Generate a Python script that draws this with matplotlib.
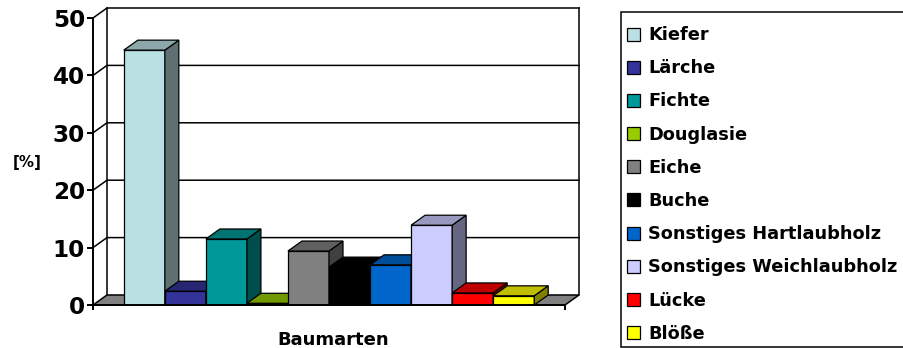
import matplotlib
matplotlib.use("Agg")
import matplotlib.pyplot as plt
from matplotlib.colors import to_rgb
from matplotlib.patches import Polygon, Rectangle

# Anteile der Baumarten in %
arten = ['Kiefer', 'Lärche', 'Fichte', 'Douglasie', 'Eiche', 'Buche',
         'Sonstiges Hartlaubholz', 'Sonstiges Weichlaubholz', 'Lücke', 'Blöße']
anteile = [44.4, 2.4, 11.5, 0.3, 9.4, 6.6, 7.0, 13.9, 2.1, 1.6]
farben = ['#BBE0E3', '#333399', '#009999', '#99CC00', '#808080', '#000000',
          '#0066CC', '#CCCCFF', '#FF0000', '#FFFF00']
y_ticks = [0, 10, 20, 30, 40, 50]

W, H = 904, 348
fig = plt.figure(figsize=(W / 100, H / 100), dpi=100)
plt.rcParams['font.family'] = 'DejaVu Sans'
plt.rcParams['font.weight'] = 'bold'


def shade(c, f):
    r, g, b = to_rgb(c)
    return (r * f, g * f, b * f)


# Diagrammfläche (Vorderkante)
ax = fig.add_axes([93 / W, 43 / H, 472 / W, 287 / H])
gap = 0.75
n = len(anteile)
x_max = n + 2 * gap
ax.set_xlim(0, x_max)
ax.set_ylim(0, 50)
ax.patch.set_visible(False)

# Tiefe der 3D-Darstellung in Dateneinheiten
dx = 14 / 472 * x_max
dy = 10 / 287 * 50

# Rückwand mit Gitternetzlinien
lw = 1.1
for v in y_ticks[1:]:
    ax.plot([0, dx, x_max + dx], [v, v + dy, v + dy], color='black',
            lw=lw, clip_on=False, zorder=1)
ax.plot([dx, dx], [dy, 50 + dy], color='black', lw=lw, clip_on=False, zorder=1)
ax.plot([x_max + dx, x_max + dx], [dy, 50 + dy], color='black', lw=lw,
        clip_on=False, zorder=1)

# Boden
floor = Polygon([(0, 0), (x_max, 0), (x_max + dx, dy), (dx, dy)],
                closed=True, facecolor='#808080', edgecolor='black', lw=lw,
                zorder=2, clip_on=False)
ax.add_patch(floor)

# Säulen: Vorderseite, Oberseite, rechte Seite
x_left = [gap + i for i in range(n)]
bars = ax.bar(x_left, anteile, width=1, align='edge', color=farben,
              edgecolor='black', lw=0.9)
for i, (bar, x0, h, c) in enumerate(zip(bars, x_left, anteile, farben)):
    bar.set_zorder(3 + i)
    top = Polygon([(x0, h), (x0 + 1, h), (x0 + 1 + dx, h + dy), (x0 + dx, h + dy)],
                  closed=True, facecolor=shade(c, 0.75), edgecolor='black',
                  lw=0.9, zorder=3 + i)
    side = Polygon([(x0 + 1, 0), (x0 + 1 + dx, dy), (x0 + 1 + dx, h + dy), (x0 + 1, h)],
                   closed=True, facecolor=shade(c, 0.5), edgecolor='black',
                   lw=0.9, zorder=3 + i)
    ax.add_patch(side)
    ax.add_patch(top)

# Achsen
for s in ['top', 'right']:
    ax.spines[s].set_visible(False)
for s in ['left', 'bottom']:
    ax.spines[s].set_linewidth(1.4)
    ax.spines[s].set_zorder(20)

ax.set_yticks(y_ticks)
ax.set_yticklabels([str(t) for t in y_ticks], fontsize=16.6, fontweight='bold')
ax.tick_params(axis='y', length=4.3, width=1.4, pad=1.4)
ax.set_xticks([0, x_max])
ax.set_xticklabels(['', ''])
ax.tick_params(axis='x', length=3.6, width=1.4)

ax.set_xlabel('Baumarten', fontsize=13, fontweight='bold', va='top')
ax.xaxis.set_label_coords((333 - 93) / 472, (305 - 331) / 287)
ax.set_ylabel('[%]', fontsize=10.8, fontweight='bold', rotation=0,
              va='center', ha='center')
ax.yaxis.set_label_coords((27 - 93) / 472, (305 - 163) / 287)

# Legende
box = Rectangle((621 / W, 1 - 347 / H), 300 / W, 335 / H,
                transform=fig.transFigure, facecolor='white',
                edgecolor='black', lw=lw, clip_on=False)
fig.patches.append(box)
for i, (name, c) in enumerate(zip(arten, farben)):
    yc = 34 + 33.2 * i
    sq = Rectangle((627 / W, 1 - (yc + 6.5) / H), 13 / W, 13 / H,
                   transform=fig.transFigure, facecolor=c,
                   edgecolor='black', lw=0.9)
    fig.patches.append(sq)
    fig.text(648 / W, 1 - (yc + 6) / H, name, fontsize=12.8,
             fontweight='bold', va='baseline', ha='left')

fig.savefig('out.png', dpi=100)
